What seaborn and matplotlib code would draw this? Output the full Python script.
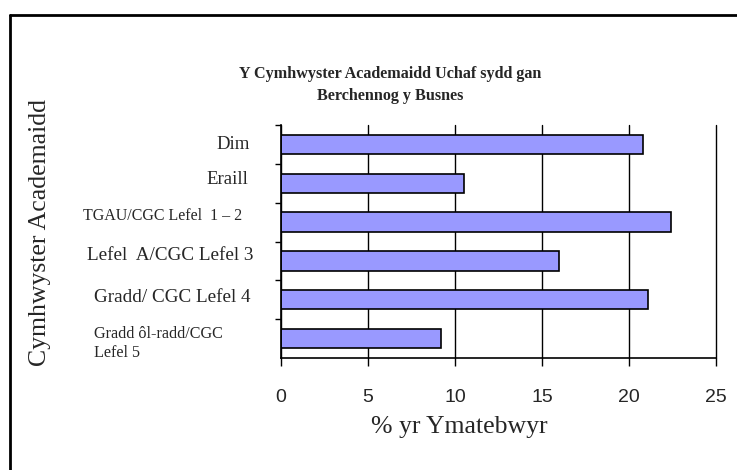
import numpy as np
import pandas as pd
import matplotlib.pyplot as plt
import matplotlib.transforms as mtransforms
import seaborn as sns

# Dados
categories = ["Dim", "Eraill", "TGAU/CGC Lefel  1 \u2013 2", "Lefel  A/CGC Lefel 3",
              "Gradd/ CGC Lefel 4", "Gradd \u00f4l-radd/CGC\nLefel 5"]
values = [20.8, 10.5, 22.4, 16.0, 21.1, 9.2]
x_ticks = [0, 5, 10, 15, 20, 25]

title = "Y Cymhwyster Academaidd Uchaf sydd gan\nBerchennog y Busnes"
x_label = "% yr Ymatebwyr"
y_label = "Cymhwyster Academaidd"

# layout dos rótulos (tamanho, x em px, deslocamento vertical em categorias)
label_sizes = [13.5, 13.5, 11.5, 13.8, 13.8, 11.6]
label_x = [250, 248, 242, 253, 250, 94]
label_dy = [0.0, -0.1, -0.15, -0.15, -0.05, 0.12]

sns.set_style("white")
plt.rcParams['font.family'] = ['Liberation Serif', 'DejaVu Serif']

fig = plt.figure(figsize=(7.37, 4.70), dpi=100)
ax = fig.add_axes([281 / 737, 1 - 358 / 470, 435 / 737, 233 / 470])

df = pd.DataFrame({"cat": categories, "val": values})
sns.barplot(data=df, x="val", y="cat", orient="h", color="#9999FF",
            edgecolor="black", linewidth=1.2, width=0.5, saturation=1, ax=ax)

ax.set_xlim(0, 25)
ax.set_ylim(len(categories) - 0.5, -0.5)
ax.set_xticks(x_ticks)
ax.set_xticklabels([str(t) for t in x_ticks], family='Liberation Sans', fontsize=14)
ax.tick_params(axis='x', direction='out', length=6, width=1, color='black', pad=16,
               bottom=True)
ax.set_yticks(np.arange(len(categories)) - 0.5, minor=True)
ax.set_yticks([])
ax.tick_params(axis='y', which='minor', direction='out', length=4, width=1,
               color='black', left=True)
ax.xaxis.grid(True, color='black', linewidth=1)
for gl in ax.get_xgridlines():
    gl.set_clip_on(False)
ax.set_axisbelow(True)
for side in ['top', 'right']:
    ax.spines[side].set_visible(False)
for side in ['left', 'bottom']:
    ax.spines[side].set_color('black')
    ax.spines[side].set_linewidth(1.2)
ax.set_xlabel("")
ax.set_ylabel("")

# Rótulos das categorias
trans = mtransforms.blended_transform_factory(fig.transFigure, ax.transData)
for i, lab in enumerate(categories):
    ha = 'left' if i == len(categories) - 1 else 'right'
    ax.text(label_x[i] / 737, i + label_dy[i], lab, transform=trans, ha=ha,
            va='center', fontsize=label_sizes[i], linespacing=1.25)

fig.text(390 / 737, 1 - 85 / 470, title, ha='center', va='center',
         fontsize=11.6, fontweight='bold', linespacing=1.45)
fig.text(459 / 737, 1 - 427 / 470, x_label, ha='center', va='center', fontsize=18.5)
fig.text(40 / 737, 1 - 232 / 470, y_label, ha='center', va='center',
         rotation=90, fontsize=18.5)

# Moldura externa
fig.add_artist(plt.Line2D([10 / 737, 10 / 737], [0, 1 - 15 / 470],
                          color='black', linewidth=2, transform=fig.transFigure))
fig.add_artist(plt.Line2D([10 / 737, 1], [1 - 15 / 470, 1 - 15 / 470],
                          color='black', linewidth=2, transform=fig.transFigure))

fig.savefig("out.png", dpi=100)
